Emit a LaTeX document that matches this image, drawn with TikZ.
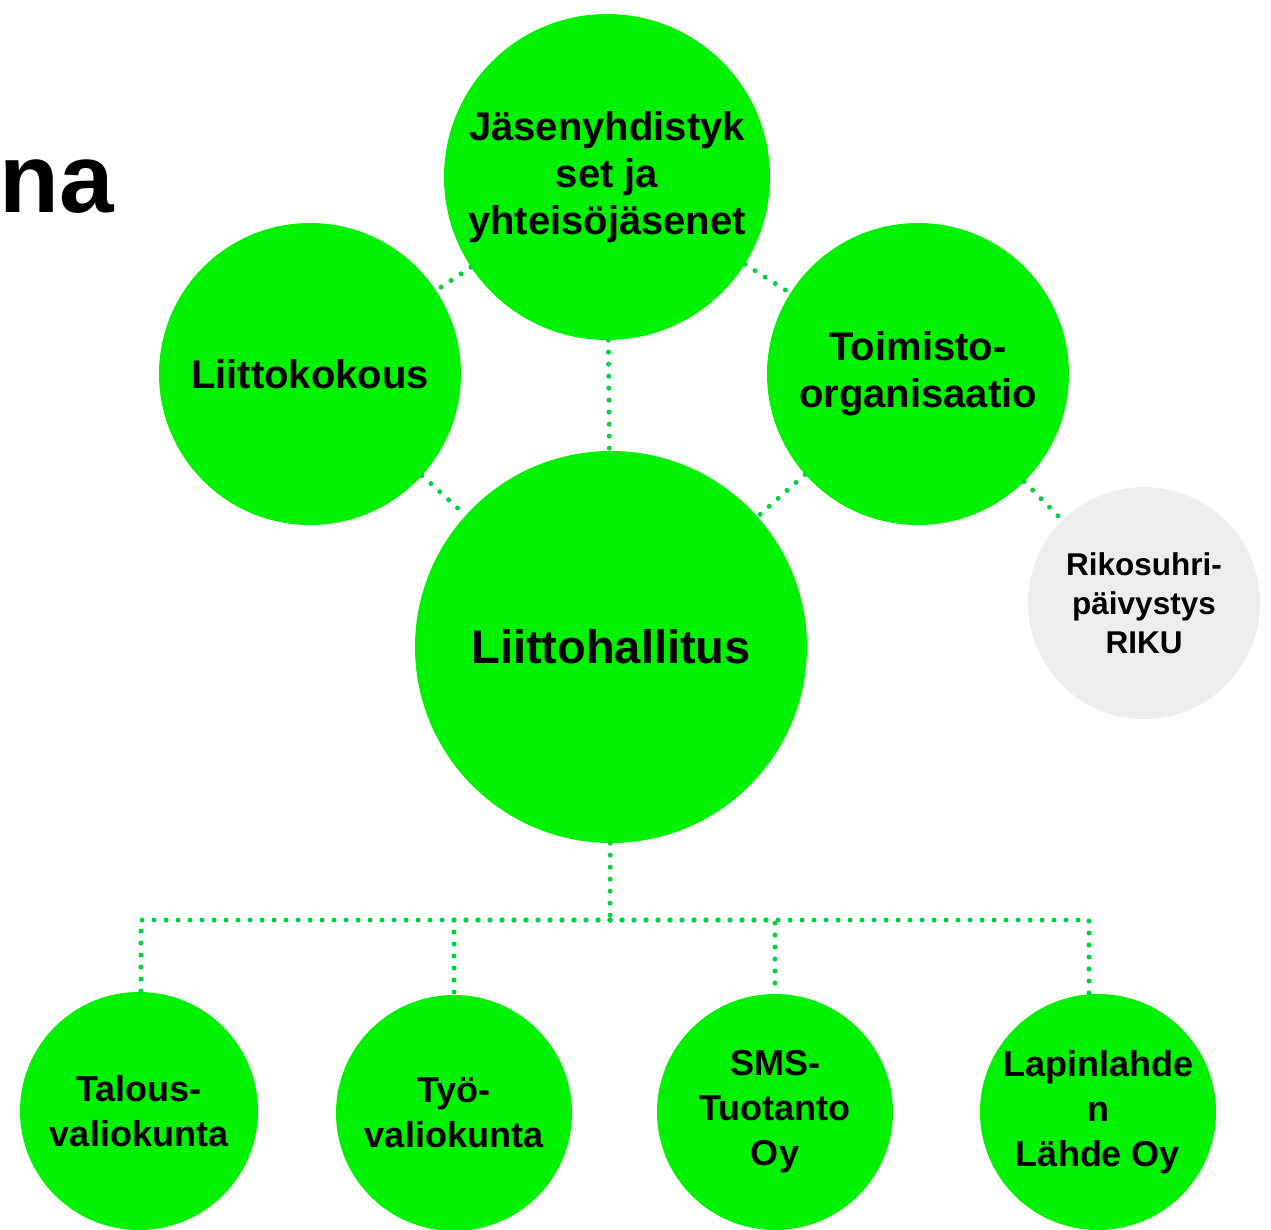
\documentclass[tikz,border=0pt]{standalone}
\usepackage{fontspec}
\setmainfont{Liberation Sans}
\definecolor{bubble}{HTML}{00F200}
\definecolor{dotgreen}{HTML}{00D43C}
\definecolor{bubblegrey}{HTML}{EDEDED}

\begin{document}
\begin{tikzpicture}[x=1pt, y=-1pt,
		bub/.style={circle, fill=bubble, inner sep=0pt, align=center,
			font=\bfseries\fontsize{40}{47}\selectfont},
		small/.style={bub, font=\bfseries\fontsize{36}{45}\selectfont},
		dotline/.style={draw=dotgreen, line width=5pt, line cap=round,
			dash pattern=on 0pt off 12pt}]
		\useasboundingbox (0,0) rectangle (1271,1230);
		\node[anchor=base west, font=\bfseries\fontsize{98}{110}\selectfont] (title) at (-4,213) {na};

		\node[bub, minimum size=326pt] (jasen) at (607,177) {J\"asenyhdistyk\\set ja\\yhteis\"oj\"asenet};
		\node[bub, minimum size=302pt] (kokous) at (310,374) {Liittokokous};
		\node[bub, minimum size=302pt] (toimisto) at (918,374) {Toimisto-\\organisaatio};
		\node[bub, minimum size=392pt, font=\bfseries\fontsize{47}{54}\selectfont] (hallitus) at (611,647) {Liittohallitus};
		\node[bub, fill=bubblegrey, minimum size=232pt, font=\bfseries\fontsize{31.5}{39}\selectfont] (riku) at (1144,603) {Rikosuhri-\\p\"aivystys\\RIKU};

		\node[small, minimum size=238pt] (talous) at (139,1111) {Talous-\\valiokunta};
		\node[small, minimum size=236pt] (tyo) at (454,1113) {Ty\"o-\\valiokunta};
		\node[small, minimum size=236pt] (sms) at (775,1112) {SMS-\\Tuotanto\\Oy};
		\node[small, minimum size=236pt] (lahde) at (1098,1112) {Lapinlahde\\n\\L\"ahde Oy};

		\coordinate (bus) at (610,920);
		\draw[dotline] (jasen) -- (hallitus);
		\draw[dotline] (jasen) -- (kokous);
		\draw[dotline] (jasen) -- (toimisto);
		\draw[dotline] (kokous) -- (hallitus);
		\draw[dotline] (toimisto) -- (hallitus);
		\draw[dotline] (toimisto) -- (riku);
		\draw[dotline] (hallitus) -- (bus);
		\draw[dotline] (bus) -| ([xshift=2pt]talous.north);
		\draw[dotline] (bus) -| (tyo);
		\draw[dotline] (bus) -| (sms);
		\draw[dotline] (bus) -| ([xshift=-9pt]lahde.north);
	\end{tikzpicture}
\end{document}
